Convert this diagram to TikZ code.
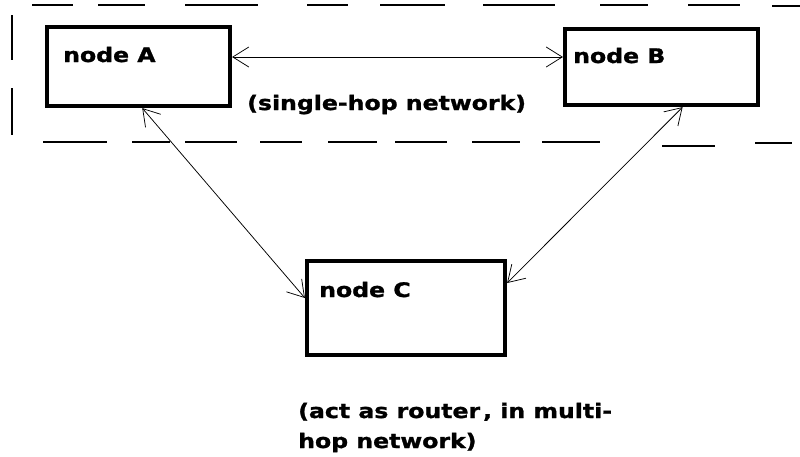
\documentclass[tikz,border=0pt]{standalone}
\usepackage{fontspec}
\setmainfont{DejaVu Sans}[BoldFont={DejaVu Sans Bold},BoldFeatures={FakeStretch=1.18,FakeBold=1.3}]
\usetikzlibrary{arrows.meta,calc}
\tikzset{
  box/.style={draw, line width=4.2pt, rectangle, inner sep=0pt},
  lbl/.style={inner sep=0pt, anchor=base west, font=\fontsize{20pt}{24pt}\selectfont\bfseries},
  link/.style={line width=0.75pt,
    {Straight Barb[length=16pt,width=20pt]}-{Straight Barb[length=16pt,width=20pt]}},
  zone/.style={line width=1.5pt}
}
\begin{document}
\begin{tikzpicture}[x=1pt,y=-1pt]
\useasboundingbox (0,0) rectangle (800,456);

% dashed boundary of the single-hop zone
\foreach \a/\b in {32/73,98/145,185/258,307/348,380/445,483/555,600/648,688/740}
  \draw[zone] (\a,5) -- (\b,5);
\draw[zone] (772,6) -- (800,6);
\foreach \a/\b in {43/107,132/170,185/237,260/302,328/377,395/447,472/520,542/600}
  \draw[zone] (\a,142) -- (\b,142);
\draw[zone] (662,146) -- (715,146);
\draw[zone] (755,143) -- (792,143);
\draw[zone] (12,15) -- (12,60);
\draw[zone] (12,88) -- (12,135);

% the three nodes
\node[box, minimum width=183pt, minimum height=79pt] (A) at (138.5,66.5) {};
\node[box, minimum width=193pt, minimum height=76pt] (B) at (661.5,67) {};
\node[box, minimum width=198pt, minimum height=94pt] (C) at (406,308) {};

\node[lbl] (Atext) at (63,62) {node A};
\node[lbl] (Btext) at (573,63) {node B};
\node[lbl] (Ctext) at (319,297) {node C};

% links
\draw[link] ([yshift=9.5pt]A.east) -- ([yshift=10pt]B.west);
\draw[link] ($(A.south west)!0.52!(A.south east)$) -- ([yshift=10pt]C.west);
\draw[link] ($(B.south west)!0.607!(B.south east)$) -- ([yshift=25pt]C.east);

% captions
\node[lbl] (single) at (247,110) {(single-hop network)};
\node[lbl] (route1) at (298,418) {(act as router\kern3pt, in multi-};
\node[lbl] (route2) at (298,448) {hop network)};
\end{tikzpicture}
\end{document}
